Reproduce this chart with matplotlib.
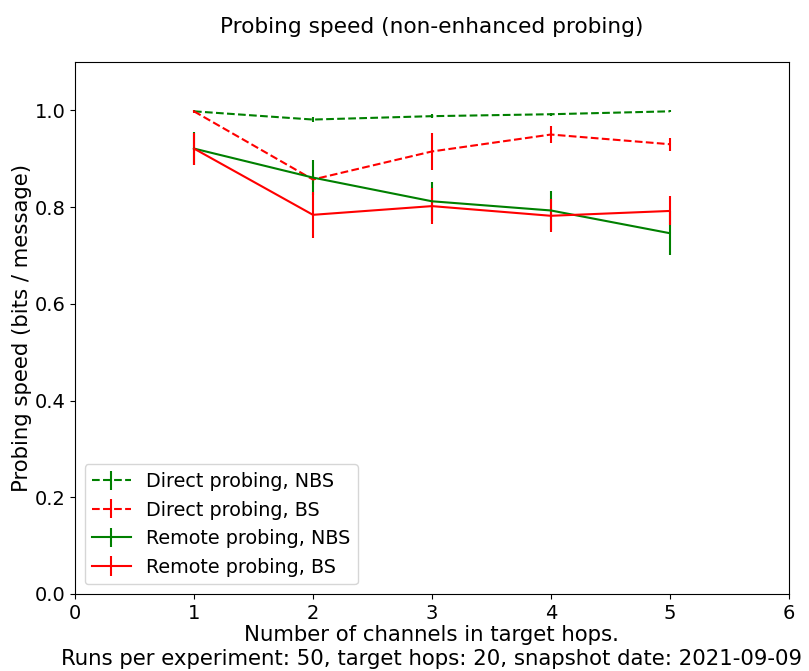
import numpy as np
import matplotlib
matplotlib.use('Agg')
import matplotlib.pyplot as plt

# data
channels = [1, 2, 3, 4, 5]

direct_nbs = [0.998, 0.981, 0.988, 0.992, 0.998]
direct_nbs_err = [0.002, 0.005, 0.004, 0.003, 0.002]

direct_bs = [0.998, 0.857, 0.915, 0.950, 0.930]
direct_bs_err = [0.003, 0.010, 0.039, 0.018, 0.013]

remote_nbs = [0.921, 0.861, 0.812, 0.793, 0.746]
remote_nbs_err = [0.034, 0.037, 0.040, 0.040, 0.045]

remote_bs = [0.921, 0.784, 0.802, 0.782, 0.792]
remote_bs_err = [0.033, 0.047, 0.037, 0.034, 0.030]

plt.rcParams['font.size'] = 14

fig = plt.figure(figsize=(8.09, 6.71), dpi=100)
ax = fig.add_axes([0.0927, 0.1148, 0.8823, 0.7928])

ax.errorbar(channels, direct_nbs, yerr=direct_nbs_err, color='green', linestyle='--', label='Direct probing, NBS')
ax.errorbar(channels, direct_bs, yerr=direct_bs_err, color='red', linestyle='--', label='Direct probing, BS')
ax.errorbar(channels, remote_nbs, yerr=remote_nbs_err, color='green', linestyle='-', label='Remote probing, NBS')
ax.errorbar(channels, remote_bs, yerr=remote_bs_err, color='red', linestyle='-', label='Remote probing, BS')

ax.set_xlim(0, 6)
ax.set_ylim(0, 1.1)
ax.set_yticks([0.0, 0.2, 0.4, 0.6, 0.8, 1.0])
ax.set_xlabel('Number of channels in target hops.\nRuns per experiment: 50, target hops: 20, snapshot date: 2021-09-09',
              fontsize=15.3, labelpad=2)
ax.set_ylabel('Probing speed (bits / message)', fontsize=15.3, labelpad=2)
ax.set_title('Probing speed (non-enhanced probing)', fontsize=15.6, pad=21)
ax.legend(loc='lower left', fontsize=13.8)

fig.savefig('out.png')
